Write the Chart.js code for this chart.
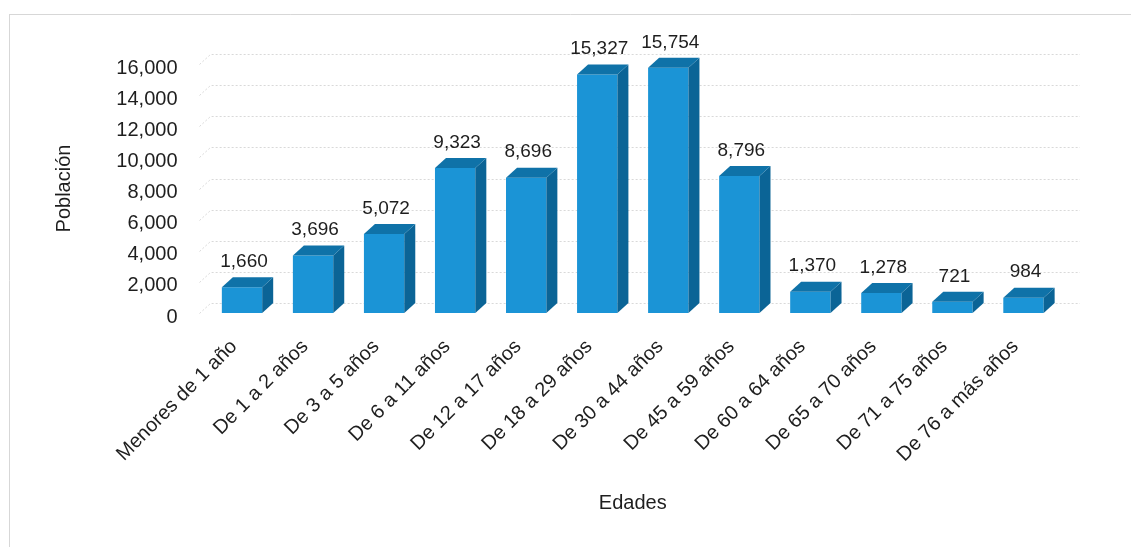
<!DOCTYPE html>
<html>
<head>
<meta charset="utf-8">
<script src="https://cdn.jsdelivr.net/npm/chart.js@4.4.1/dist/chart.umd.min.js"></script>
<style>
  body { margin: 0; background: #fff; }
  canvas { display: block; }
</style>
</head>
<body>
<canvas id="edades" width="1131" height="547"></canvas>
<script>
var categorias = ['Menores de 1 año', 'De 1 a 2 años', 'De 3 a 5 años', 'De 6 a 11 años',
    'De 12 a 17 años', 'De 18 a 29 años', 'De 30 a 44 años', 'De 45 a 59 años',
    'De 60 a 64 años', 'De 65 a 70 años', 'De 71 a 75 años', 'De 76 a más años'];
var poblacion = [1660, 3696, 5072, 9323, 8696, 15327, 15754, 8796, 1370, 1278, 721, 984];
var ticksY = [0, 2000, 4000, 6000, 8000, 10000, 12000, 14000, 16000];

var FONT = '"Liberation Sans", Arial, sans-serif';
var DX = 11, DY = 10;   // profundidad de las barras

function fmt(n) {
    return n.toLocaleString('en-US');
}

// paredes, cuadricula y marco
var fondo3d = {
    id: 'fondo3d',
    beforeDatasetsDraw: function(chart) {
        var ctx = chart.ctx;
        var area = chart.chartArea;
        var y = chart.scales.y;
        ctx.save();
        ctx.strokeStyle = 'rgba(205,205,205,0.8)';
        ctx.lineWidth = 1;
        ctx.beginPath();
        ctx.moveTo(10, 14.5);
        ctx.lineTo(1131, 14.5);
        ctx.moveTo(9.5, 14);
        ctx.lineTo(9.5, 547);
        ctx.stroke();

        ctx.strokeStyle = 'rgba(185,185,185,0.55)';
        ctx.setLineDash([2, 2]);
        for (var i = 0; i < ticksY.length; i++) {
            var py = Math.round(y.getPixelForValue(ticksY[i])) + 0.5;
            ctx.beginPath();
            ctx.moveTo(area.left - 7, py);
            ctx.lineTo(area.left - 7 + DX, py - DY);
            ctx.lineTo(area.right + DX + 10, py - DY);
            ctx.stroke();
        }
        ctx.restore();
    },
    afterDatasetsDraw: function(chart) {
        var ctx = chart.ctx;
        var meta = chart.getDatasetMeta(0);
        ctx.save();
        meta.data.forEach(function(bar, i) {
            var w = bar.width;
            var l = bar.x - w / 2, r = bar.x + w / 2;
            var top = bar.y, base = bar.base;
            // cara lateral
            ctx.fillStyle = '#0b6496';
            ctx.beginPath();
            ctx.moveTo(r, top);
            ctx.lineTo(r + DX, top - DY);
            ctx.lineTo(r + DX, base - DY);
            ctx.lineTo(r, base);
            ctx.closePath();
            ctx.fill();
            // cara superior
            ctx.fillStyle = '#0f72a8';
            ctx.beginPath();
            ctx.moveTo(l, top);
            ctx.lineTo(l + DX, top - DY);
            ctx.lineTo(r + DX, top - DY);
            ctx.lineTo(r, top);
            ctx.closePath();
            ctx.fill();
            // etiqueta de valor
            ctx.fillStyle = '#1e1e1e';
            ctx.font = '19px ' + FONT;
            ctx.textAlign = 'center';
            ctx.textBaseline = 'bottom';
            ctx.fillText(fmt(poblacion[i]), bar.x + 2, top - DY - 6);
        });
        ctx.restore();
    }
};

new Chart(document.getElementById('edades').getContext('2d'), {
    type: 'bar',
    data: {
        labels: categorias,
        datasets: [{
            label: 'Población',
            data: poblacion,
            backgroundColor: '#1b94d6',
            borderWidth: 0,
            barPercentage: 0.8,
            categoryPercentage: 0.71
        }]
    },
    options: {
        responsive: false,
        animation: false,
        layout: { padding: { top: 64, right: 72, left: 40, bottom: 0 } },
        plugins: {
            legend: { display: false },
            tooltip: { enabled: false }
        },
        scales: {
            x: {
                grid: { display: false, drawTicks: false },
                border: { display: false },
                ticks: {
                    minRotation: 45,
                    maxRotation: 45,
                    padding: 22,
                    labelOffset: -8,
                    color: '#1e1e1e',
                    font: { family: FONT, size: 20 }
                },
                title: {
                    display: true,
                    text: 'Edades',
                    color: '#1e1e1e',
                    font: { family: FONT, size: 20 },
                    padding: { top: 0, bottom: 32 }
                },
                afterFit: function(scale) { scale.height = 234; }
            },
            y: {
                min: 0,
                max: 16000,
                grid: { display: false, drawTicks: false },
                border: { display: false },
                ticks: {
                    stepSize: 2000,
                    padding: 29,
                    labelOffset: 4,
                    color: '#1e1e1e',
                    font: { family: FONT, size: 20 },
                    callback: function(v) { return fmt(v); }
                },
                title: {
                    display: true,
                    text: 'Población',
                    color: '#1e1e1e',
                    font: { family: FONT, size: 20 },
                    padding: { top: 12, bottom: 0 }
                },
                afterFit: function(scale) { scale.width = 166.5; }
            }
        }
    },
    plugins: [fondo3d]
});
</script>
</body>
</html>
